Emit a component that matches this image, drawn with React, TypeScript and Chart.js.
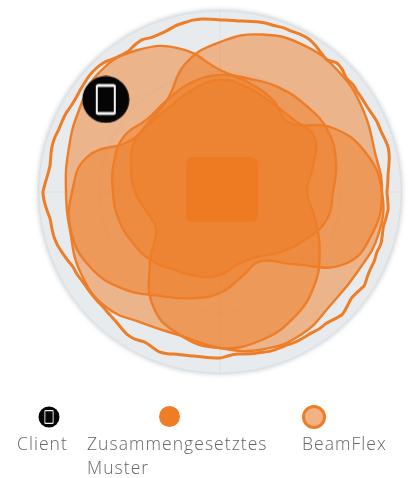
import React, { useEffect, useRef } from "react";
import { Chart, registerables } from "chart.js";

Chart.register(...registerables);

// Angles run clockwise from the top, one label per 3 degrees.
const angleLabels = Array.from({ length: 120 }, (_, i) => `${i * 3}°`);

// Patterns sampled every 15 degrees
const patternCircle = [117,117,120,122,124,120,113,110,97,85,75,74,83,87,90,97,101,105,107,110,111,103,106,113];
const patternFlower = [112,108,103,103,109,96,87,98,115,133,146,154,156,149,133,99,74,76,85,92,99,98,99,106];
const patternTopRight = [150,163,169,169,165,160,162,158,144,102,80,87,101,110,120,137,150,154,148,137,103,100,106,133];
const patternWide = [122,113,106,98,129,151,162,164,159,158,164,163,156,149,152,162,161,155,154,157,163,170,164,148];

// BeamFlex envelope sampled every 3 degrees
const envelope = [
  172,172,172,173,174,175,175,176,176,177,177,175,172,170,174,173,170,171,170,170,
  170,171,172,172,173,174,173,171,169,168,167,168,169,168,167,168,169,168,169,169,
  170,172,170,169,171,173,171,169,169,168,168,168,167,167,167,166,165,164,163,164,
  166,166,166,166,167,168,170,171,169,168,170,170,168,166,165,164,164,164,164,164,
  165,165,167,169,171,172,172,172,174,176,177,175,173,172,173,174,174,173,173,173,
  172,172,173,174,175,175,174,171,169,168,170,171,169,169,170,172,173,174,174,173,
];

// Central block: label indexes and values
const coreIndexes = [14,16,18,41,43,45,74,76,78,103,105,107];
const coreValues = [47.1,49.2,47,45.3,46,42.4,40.4,43.2,42,43.7,46.3,45];

const clientIndex = 103;
const clientValue = 147;

const legendNames = ["Client", "Zusammengesetztes\nMuster", "BeamFlex"];

const ORANGE = "#ee7d28";
const LAYER = "rgba(238,125,40,0.5)";

const expand = (values: number[], step: number) =>
  angleLabels.map((_, i) => (i % step === 0 ? values[i / step] : null));
const place = (indexes: number[], values: number[]) =>
  angleLabels.map((_, i) => {
    const k = indexes.indexOf(i);
    return k >= 0 ? values[k] : null;
  });

function phoneIcon(size: number) {
  const c = document.createElement("canvas");
  c.width = size;
  c.height = size;
  const g = c.getContext("2d")!;
  const m = size / 2;
  const s = size / 48;
  g.fillStyle = "#050505";
  g.beginPath();
  g.arc(m, m, m - 0.5, 0, Math.PI * 2);
  g.fill();
  g.fillStyle = "#f4f4f4";
  g.beginPath();
  g.roundRect(m - 10 * s, m - 15.5 * s, 20 * s, 31 * s, 2.5 * s);
  g.fill();
  g.fillStyle = "#050505";
  g.fillRect(m - 8 * s, m - 12.5 * s, 16 * s, 25 * s);
  return c;
}

export default function App() {
  const ref = useRef<HTMLCanvasElement>(null);
  const iconRef = useRef<HTMLCanvasElement>(null);

  useEffect(() => {
    const base = { pointRadius: 0, spanGaps: true, tension: 0.45, borderColor: ORANGE, borderWidth: 2.4, fill: true, backgroundColor: LAYER };
    const chart = new Chart(ref.current!, {
      type: "radar",
      data: {
        labels: angleLabels,
        datasets: [
          {
            label: "Client",
            data: place([clientIndex], [clientValue]),
            showLine: false,
            fill: false,
            pointStyle: phoneIcon(48) as any,
            pointRadius: 24,
          },
          {
            label: "Kern",
            data: place(coreIndexes, coreValues),
            spanGaps: true,
            tension: 0,
            pointRadius: 0,
            borderWidth: 0,
            fill: true,
            backgroundColor: "#ee7a22",
          },
          {
            label: "BeamFlex",
            data: envelope,
            pointRadius: 0,
            tension: 0.2,
            fill: false,
            borderColor: ORANGE,
            borderWidth: 3,
          },
          { label: "Muster 1", data: expand(patternCircle, 5), ...base },
          { label: "Muster 2", data: expand(patternFlower, 5), ...base },
          { label: "Muster 3", data: expand(patternTopRight, 5), ...base },
          { label: "Muster 4", data: expand(patternWide, 5), ...base },
        ] as any,
      },
      options: {
        responsive: false,
        animation: false,
        events: [],
        layout: { padding: { left: 39, right: 8, top: 11, bottom: 105 } },
        plugins: { legend: { display: false }, tooltip: { enabled: false } },
        scales: {
          r: {
            min: 0,
            max: 181,
            backgroundColor: "#e8ebee",
            ticks: { display: false, stepSize: 60 },
            pointLabels: { display: false },
            grid: { circular: true, color: "rgba(212,216,220,0.5)", lineWidth: 1 },
            angleLines: {
              display: true,
              color: "rgba(212,216,220,0.6)",
              lineWidth: (ctx: any) => (ctx.index % 30 === 0 ? 1 : 0),
            },
          },
        },
      } as any,
    });
    const ic = iconRef.current!.getContext("2d")!;
    ic.drawImage(phoneIcon(22), 0, 0);
    return () => chart.destroy();
  }, []);

  const text: React.CSSProperties = {
    position: "absolute",
    fontFamily: '"Open Sans", sans-serif',
    fontWeight: 300,
    fontSize: 17.5,
    letterSpacing: 1.05,
    lineHeight: "24px",
    color: "#666",
    whiteSpace: "pre",
  };

  return (
    <div style={{ position: "absolute", left: 0, top: 0, width: 409, height: 478, background: "#fff", overflow: "hidden" }}>
      <div style={{ position: "absolute", left: 39, top: 11, width: 362, height: 362, borderRadius: "50%", boxShadow: "0 0 5px 1px rgba(150,158,168,0.55)" }} />
      <canvas ref={ref} width={409} height={478} style={{ position: "absolute", left: 0, top: 0 }} />
      <canvas ref={iconRef} width={22} height={22} style={{ position: "absolute", left: 38, top: 406 }} />
      <div style={{ position: "absolute", left: 159, top: 406, width: 21, height: 21, borderRadius: "50%", background: ORANGE }} />
      <div style={{ position: "absolute", left: 302, top: 405, width: 18, height: 18, borderRadius: "50%", background: "#f2b283", border: "3px solid " + ORANGE }} />
      <div style={{ ...text, left: 17, top: 431 }}>{legendNames[0]}</div>
      <div style={{ ...text, left: 87, top: 431 }}>{legendNames[1]}</div>
      <div style={{ ...text, left: 302, top: 431 }}>{legendNames[2]}</div>
    </div>
  );
}
